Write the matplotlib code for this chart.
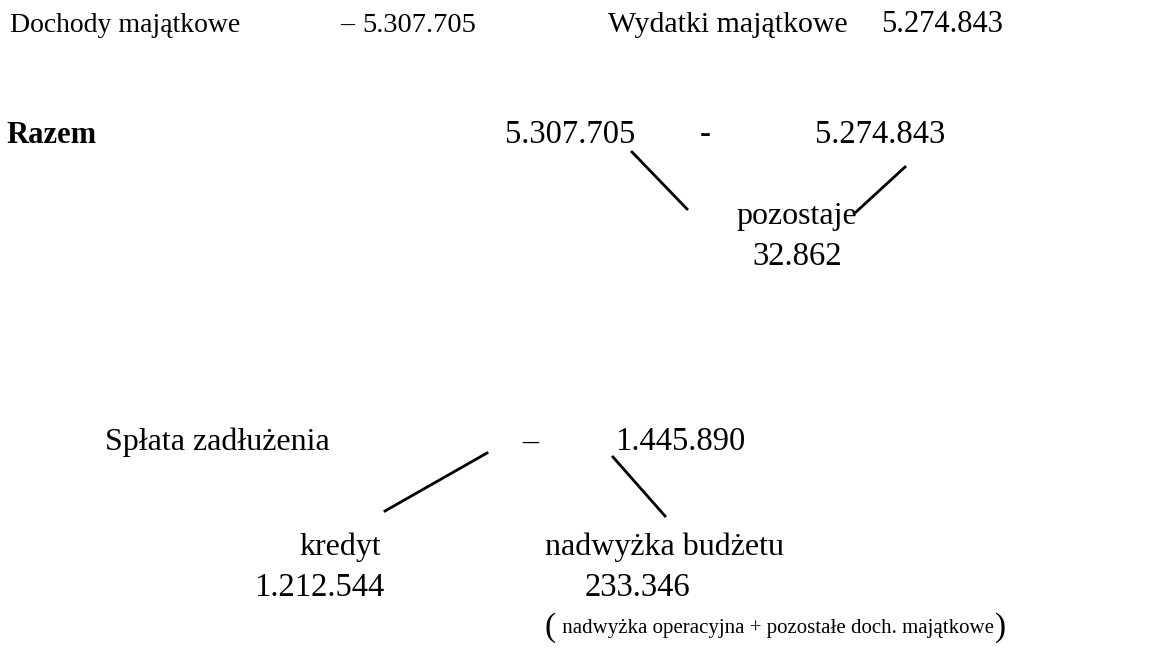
import matplotlib.pyplot as plt

plt.rcParams['font.family'] = ['Liberation Serif', 'DejaVu Serif']

# values shown in the diagram
dochody = "5.307.705"
wydatki = "5.274.843"
pozostaje = "32.862"
splata = "1.445.890"
kredyt = "1.212.544"
nadwyzka = "233.346"

fig = plt.figure(figsize=(11.51, 6.66), dpi=100)
ax = fig.add_axes([0, 0, 1, 1])
ax.set_xlim(0, 1151)
ax.set_ylim(666, 0)
ax.axis('off')

fs = 23     # main text
fn = 23.5   # numbers

# top row
ax.text(10, 32, "Dochody majątkowe", fontsize=20, va='baseline')
ax.text(340, 32, "–", fontsize=20, va='baseline')
ax.text(362, 32, dochody, fontsize=20.5, va='baseline')
ax.text(608, 32, "Wydatki majątkowe", fontsize=21.5, va='baseline')
ax.text(1003, 32, wydatki, fontsize=22, ha='right', va='baseline')

# Razem row
ax.text(6, 143, "Razem", fontsize=22, fontweight='bold', va='baseline')
ax.text(505, 143, dochody, fontsize=fn, va='baseline')
ax.text(700, 143, "-", fontsize=fn, va='baseline')
ax.text(945, 143, wydatki, fontsize=fn, ha='right', va='baseline')

ax.plot([632, 687], [152, 209], color='black', lw=2)
ax.plot([905, 856], [167, 212], color='black', lw=2)

ax.text(797, 224, "pozostaje", fontsize=fs, ha='center', va='baseline')
ax.text(797, 265, pozostaje, fontsize=fn, ha='center', va='baseline')

# Splata row
ax.text(105, 450, "Spłata zadłużenia", fontsize=fs, va='baseline')
ax.text(530, 450, "–", fontsize=fs, ha='center', va='baseline')
ax.text(615, 450, splata, fontsize=fn, va='baseline')

ax.plot([487, 385], [453, 511], color='black', lw=2)
ax.plot([613, 665], [457, 516], color='black', lw=2)

ax.text(340, 555, "kredyt", fontsize=fs, ha='center', va='baseline')
ax.text(319, 596, kredyt, fontsize=fn, ha='center', va='baseline')

ax.text(545, 555, "nadwyżka budżetu", fontsize=fs, va='baseline')
ax.text(585, 596, nadwyzka, fontsize=fn, va='baseline')

ax.text(545, 636, "(", fontsize=24, va='baseline')
ax.text(557, 633, " nadwyżka operacyjna + pozostałe doch. majątkowe", fontsize=15, va='baseline')
ax.text(1006, 636, ")", fontsize=24, ha='right', va='baseline')

fig.savefig("out.png", dpi=100)
